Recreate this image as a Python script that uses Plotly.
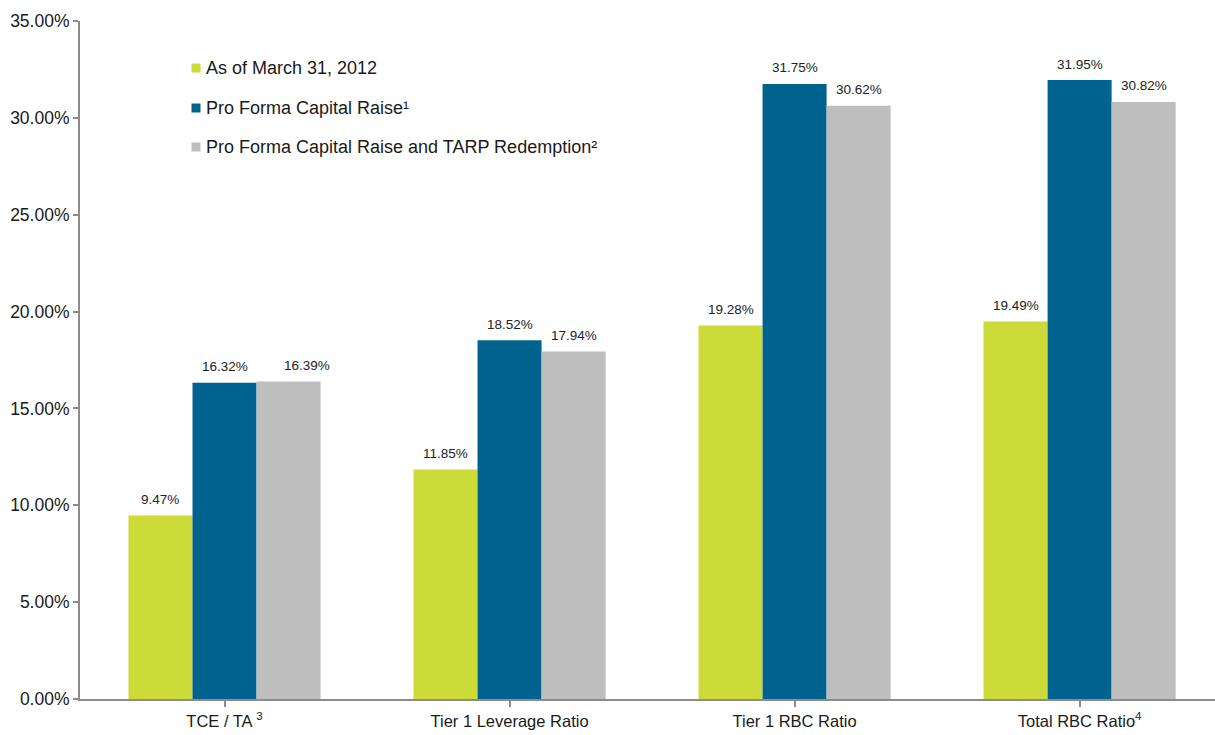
import plotly.graph_objects as go

categories = ["TCE / TA <sup>3</sup>", "Tier 1 Leverage Ratio", "Tier 1 RBC Ratio", "Total RBC Ratio<sup>4</sup>"]
series_names = [
    "As of March 31, 2012",
    "Pro Forma Capital Raise¹",
    "Pro Forma Capital Raise and TARP Redemption²",
]
as_of_march = [9.47, 11.85, 19.28, 19.49]
pro_forma_raise = [16.32, 18.52, 31.75, 31.95]
pro_forma_tarp = [16.39, 17.94, 30.62, 30.82]
series_values = [as_of_march, pro_forma_raise, pro_forma_tarp]
y_ticks = [0, 5, 10, 15, 20, 25, 30, 35]

colors = ["#CCDB38", "#00638F", "#BEBEBE"]
n_series = len(series_values)
bargap = 0.326
group_width = 1 - bargap
bar_width = group_width / n_series

# plot area in pixels (used to place the manual legend)
W, H = 1215, 735
M_L, M_R, M_T, M_B = 80, 0, 21, 36
plot_w, plot_h = W - M_L - M_R, H - M_T - M_B

fig = go.Figure()
for i, (name, vals, col) in enumerate(zip(series_names, series_values, colors)):
    fig.add_trace(go.Bar(
        x=list(range(len(categories))), y=vals, name=name,
        marker=dict(color=col, line=dict(width=0)),
        offsetgroup=str(i), showlegend=False,
    ))
    # value labels above each bar
    for j, v in enumerate(vals):
        xc = j - group_width / 2 + bar_width * (i + 0.5)
        xshift = 18 if (i == 2 and j == 0) else 0
        fig.add_annotation(
            x=xc, y=v, xref="x", yref="y", text=f"{v:.2f}%",
            showarrow=False, yanchor="middle", yshift=16, xshift=xshift,
            font=dict(size=13.5, color="#222222"),
        )

# legend drawn as squares + labels
legend_x_px = 196
legend_rows_px = [68, 108, 147]
for name, col, ypx in zip(series_names, colors, legend_rows_px):
    yp = (H - M_B - ypx) / plot_h
    xp = (legend_x_px - M_L) / plot_w
    fig.add_shape(
        type="rect", xref="paper", yref="paper",
        xsizemode="pixel", ysizemode="pixel",
        xanchor=xp, yanchor=yp, x0=-4.5, x1=4.5, y0=-4.5, y1=4.5,
        fillcolor=col, line=dict(width=0),
    )
    fig.add_annotation(
        x=xp, y=yp, xref="paper", yref="paper", text=name,
        showarrow=False, xanchor="left", yanchor="middle", xshift=8,
        font=dict(size=18, color="#1a1a1a"),
    )

fig.update_layout(
    width=W, height=H,
    margin=dict(l=M_L, r=M_R, t=M_T, b=M_B),
    paper_bgcolor="white", plot_bgcolor="white",
    font=dict(family="Liberation Sans, Arial, sans-serif", color="#1a1a1a"),
    barmode="group", bargap=bargap, bargroupgap=0,
    showlegend=False,
)
fig.update_xaxes(
    tickvals=list(range(len(categories))), ticktext=categories,
    range=[-0.507, 3.475], showline=True, linecolor="#8c8c8c", linewidth=2,
    ticks="outside", tickson="boundaries", ticklen=6, tickcolor="#8c8c8c", tickwidth=2,
    tickfont=dict(size=16.5), showgrid=False, zeroline=False,
)
fig.update_yaxes(
    range=[0, 35], tickvals=y_ticks, ticktext=[f"{t:.2f}%" for t in y_ticks],
    showline=True, linecolor="#8c8c8c", linewidth=2,
    ticks="outside", ticklen=5, tickcolor="#8c8c8c", tickwidth=2,
    tickfont=dict(size=17.5), showgrid=False, zeroline=False,
)

fig.write_html("out.html")
